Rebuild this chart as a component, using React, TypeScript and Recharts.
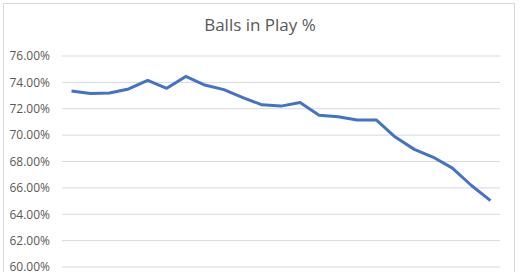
import { LineChart, Line, XAxis, YAxis, CartesianGrid } from "recharts";

// Season-by-season share of balls put in play, in percent
const seasons = [
  "1", "2", "3", "4", "5", "6", "7", "8", "9", "10", "11", "12",
  "13", "14", "15", "16", "17", "18", "19", "20", "21", "22", "23",
];
const bipPct = [
  73.35, 73.15, 73.2, 73.5, 74.15, 73.55, 74.45, 73.8, 73.45, 72.85, 72.3, 72.2,
  72.47, 71.5, 71.4, 71.15, 71.15, 69.85, 68.92, 68.32, 67.5, 66.18, 65.03,
];
const yTicks = [60, 62, 64, 66, 68, 70, 72, 74, 76];

const data = seasons.map((s, i) => ({ season: s, bip: bipPct[i] }));

const FONT = "'Open Sans', 'Liberation Sans', sans-serif";

export default function App() {
  return (
    <div style={{ position: "absolute", left: 0, top: 0, width: 520, height: 272, overflow: "hidden", background: "#fff" }}>
      <div
        style={{
          position: "absolute", left: 3, top: 3, width: 512, height: 300,
          border: "1px solid #d9d9d9", boxSizing: "border-box",
        }}
      />
      <div
        style={{
          position: "absolute", left: 0, top: 13, width: 520, textAlign: "center",
          fontFamily: FONT, fontSize: 17, color: "#595959",
        }}
      >
        Balls in Play %
      </div>
      <div style={{ position: "absolute", left: 0, top: 0 }}>
        {/* taller than the visible frame so the bottom tick isn't dropped */}
        <LineChart width={520} height={300} data={data} margin={{ top: 56, right: 20, bottom: 33, left: 0 }}>
          <CartesianGrid vertical={false} stroke="#d9d9d9" strokeWidth={1} />
          <XAxis dataKey="season" hide padding={{ left: 9.5, right: 9.5 }} />
          <YAxis
            domain={[60, 76]}
            ticks={yTicks}
            interval={0}
            width={62}
            axisLine={false}
            tickLine={false}
            tickSize={6}
            tickMargin={6}
            tickFormatter={(v: number) => `${v.toFixed(2)}%`}
            tick={{ fill: "#595959", fontSize: 12, fontFamily: FONT }}
          />
          <Line
            type="linear"
            dataKey="bip"
            stroke="#4472c4"
            strokeWidth={3}
            dot={false}
            strokeLinejoin="round"
            isAnimationActive={false}
          />
        </LineChart>
      </div>
    </div>
  );
}
